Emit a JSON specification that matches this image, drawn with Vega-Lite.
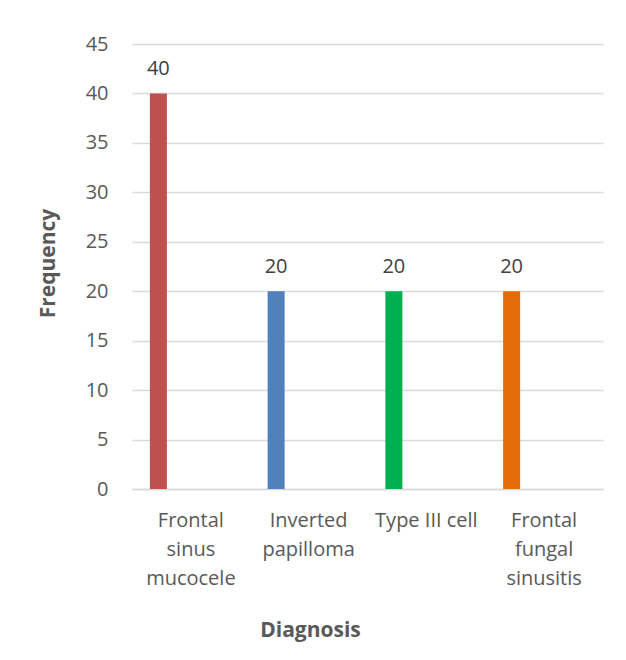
{
  "$schema": "https://vega.github.io/schema/vega-lite/v6.json",
  "autosize": "none",
  "width": 471,
  "height": 445,
  "padding": {"left": 132, "top": 44, "right": 23, "bottom": 171},
  "background": "white",
  "data": {
    "values": [
      {"diagnosis": "Frontal sinus mucocele", "frequency": 40, "color": "#C0504D"},
      {"diagnosis": "Inverted papilloma", "frequency": 20, "color": "#4F81BD"},
      {"diagnosis": "Type III cell", "frequency": 20, "color": "#00B050"},
      {"diagnosis": "Frontal fungal sinusitis", "frequency": 20, "color": "#E36C09"}
    ]
  },
  "config": {
    "view": {"stroke": null},
    "font": "Open Sans"
  },
  "encoding": {
    "x": {
      "field": "diagnosis",
      "type": "nominal",
      "sort": null,
      "scale": {"paddingInner": 0, "paddingOuter": 0},
      "axis": {
        "title": "Diagnosis",
        "titleFontSize": 21,
        "titleFontWeight": "bold",
        "titleColor": "#595959",
        "titleX": 178,
        "titleY": 141,
        "titleBaseline": "middle",
        "titleAlign": "center",
        "labelAngle": 0,
        "labelFontSize": 20,
        "labelColor": "#595959",
        "labelLineHeight": 29,
        "labelPadding": 21,
        "labelBaseline": "top",
        "ticks": false,
        "tickSize": 0,
        "domainColor": "#D9D9D9",
        "domainWidth": 1.5,
        "labelExpr": "datum.label == 'Frontal sinus mucocele' ? ['Frontal', 'sinus', 'mucocele'] : datum.label == 'Inverted papilloma' ? ['Inverted', 'papilloma'] : datum.label == 'Frontal fungal sinusitis' ? ['Frontal', 'fungal', 'sinusitis'] : datum.label"
      }
    },
    "y": {
      "field": "frequency",
      "type": "quantitative",
      "scale": {"domain": [0, 45], "nice": false},
      "axis": {
        "title": "Frequency",
        "titleFontSize": 21,
        "titleFontWeight": "bold",
        "titleColor": "#595959",
        "titleAngle": -90,
        "titleX": -84,
        "titleY": 219,
        "titleBaseline": "middle",
        "titleAlign": "center",
        "values": [0, 5, 10, 15, 20, 25, 30, 35, 40, 45],
        "labelFontSize": 20,
        "labelColor": "#595959",
        "labelPadding": 24,
        "ticks": false,
        "tickSize": 0,
        "domain": false,
        "gridColor": "#D9D9D9",
        "gridWidth": 1.5
      }
    }
  },
  "layer": [
    {
      "mark": {"type": "bar", "width": 17, "xOffset": -32.5},
      "encoding": {
        "color": {"field": "color", "type": "nominal", "scale": null, "legend": null}
      }
    },
    {
      "mark": {"type": "text", "xOffset": -32.5, "dy": -18, "baseline": "alphabetic", "fontSize": 20, "color": "#404040"},
      "encoding": {
        "text": {"field": "frequency", "type": "quantitative"}
      }
    }
  ]
}
